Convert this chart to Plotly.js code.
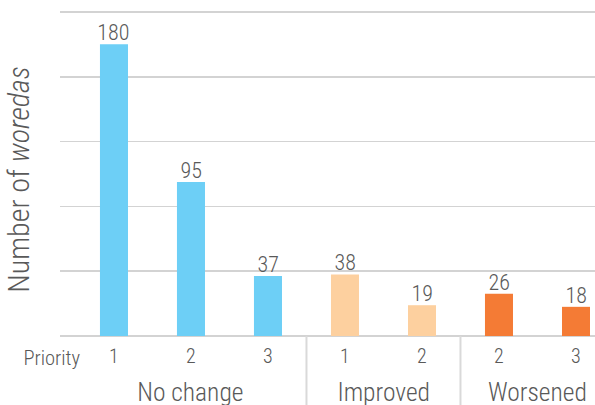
<!DOCTYPE html>
<html><head><meta charset="utf-8">
<script src="https://cdn.plot.ly/plotly-3.0.1.min.js"></script>
<style>html,body{margin:0;padding:0;background:#fff}#chart{width:595px;height:405px}
#chart text{font-stretch:80% !important;}</style>
</head><body><div id="chart"></div>
<script>
const groups = ["No change","No change","No change","Improved","Improved","Worsened","Worsened"];
const priorities = ["1","2","3","1","2","2","3"];
const values = [180, 95, 37, 38, 19, 26, 18];
const groupColors = {"No change":"#6DCFF6","Improved":"#FDD09F","Worsened":"#F47B35"};
const yTicks = [0, 40, 80, 120, 160, 200];

const FAM = "Roboto, sans-serif";
const TXT = "#595959";
function F(size){ return {family:FAM, size:size, color:TXT, weight:320, stretch:"condensed"}; }
const xIdx = values.map((v,i)=>i);

const trace = {
  type: "bar",
  x: xIdx,
  y: values,
  width: 0.364,
  marker: {color: groups.map(g=>groupColors[g])},
  hoverinfo: "none"
};

// value labels above bars
const annotations = values.map((v,i)=>({
  x:i, xref:"x", y:v, yref:"y", text:String(v), showarrow:false,
  xanchor:"center", yanchor:"bottom", yshift:-3, font:F(22)
}));

const uniqueGroups = [...new Set(groups)];
uniqueGroups.forEach(g=>{
  const idx = xIdx.filter(i=>groups[i]===g);
  const c = (idx[0]+idx[idx.length-1])/2;
  annotations.push({x:c, xref:"x", y:-68/324, yref:"paper", yshift:-5, text:g, showarrow:false,
          xanchor:"center", yanchor:"bottom", font:F(25.5)});
});
annotations.push({x:0.0486, xref:"paper", y:-0.066, yref:"paper", text:"Priority", showarrow:false,
  xanchor:"right", yanchor:"middle", font:F(20.5)});
annotations.push({x:0, xref:"paper", xshift:-42, y:0.478, yref:"paper", text:"Number of <i>woredas</i>",
  textangle:-90, showarrow:false, xanchor:"center", yanchor:"middle", font:F(30)});

const shapes = [];
for (let i=1;i<groups.length;i++){
  if (groups[i]!==groups[i-1]){
    shapes.push({type:"line", xref:"x", yref:"paper", x0:i-0.5, x1:i-0.5, y0:0, y1:-0.215,
      line:{color:"#d9d9d9", width:2}});
  }
}

const layout = {
  width:595, height:405,
  margin:{l:60, r:0, t:10, b:69},
  paper_bgcolor:"#fff", plot_bgcolor:"#fff",
  showlegend:false,
  font:F(20),
  xaxis:{range:[-0.701, 6.247], tickvals:xIdx, ticktext:priorities, showgrid:false,
    zeroline:false, showline:false, ticks:"", tickfont:F(20),
    ticklabelstandoff:6, fixedrange:true},
  yaxis:{range:[0, 201.2], tickvals:yTicks, showticklabels:false, showgrid:true,
    gridcolor:"#d3d3d3", gridwidth:1.5, zeroline:true, zerolinecolor:"#d3d3d3", zerolinewidth:2,
    showline:false, fixedrange:true},
  annotations: annotations,
  shapes: shapes
};

Plotly.newPlot("chart", [trace], layout, {displayModeBar:false, staticPlot:true});
</script>
</body></html>
